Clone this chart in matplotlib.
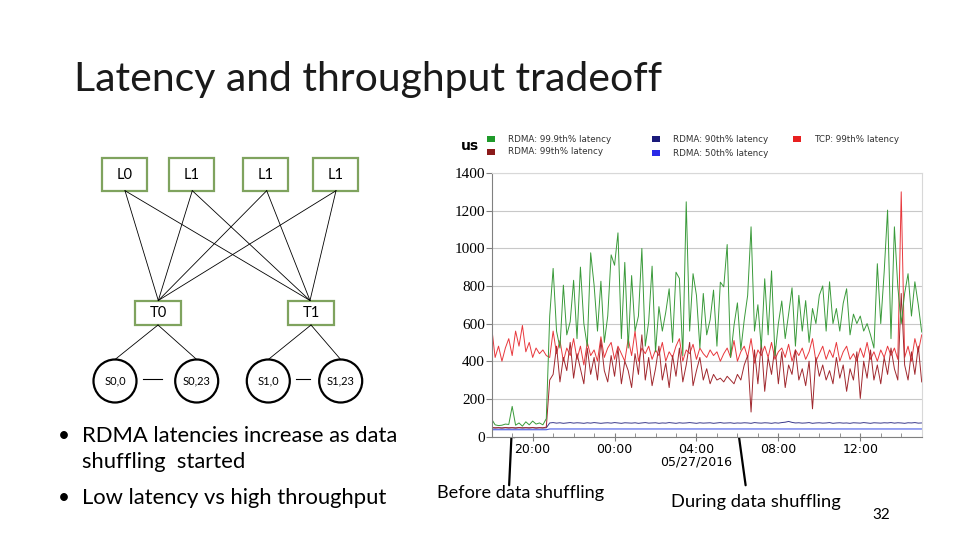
import matplotlib
matplotlib.use('Agg')
import matplotlib.pyplot as plt
import matplotlib.dates as mdates
from matplotlib.patches import Rectangle, Circle
from matplotlib.ticker import FuncFormatter
import pandas as pd

# 10-minute samples, 18:00 on 05/26 to 15:00 on 05/27
times = pd.date_range('2016-05-26 18:00', '2016-05-27 15:00', freq='10min')

rdma_p999 = [92, 62, 58, 60, 66, 64, 160, 60, 72, 55, 78, 62, 82, 66, 72, 62, 95,
             640, 893, 560, 470, 804, 540, 610, 830, 520, 900, 600, 480, 976,
             805, 560, 825, 500, 640, 965, 910, 1082, 520, 925, 470, 855, 560,
             640, 999, 480, 610, 905, 450, 690, 560, 660, 785, 500, 873, 840,
             430, 1247, 560, 865, 750, 470, 760, 540, 620, 778, 480, 820, 795,
             1020, 420, 590, 710, 460, 620, 750, 1114, 560, 700, 470, 838, 540,
             880, 430, 600, 720, 520, 650, 790, 480, 750, 560, 722, 500, 680,
             600, 750, 800, 560, 822, 600, 680, 560, 708, 785, 540, 650, 600,
             640, 560, 600, 540, 470, 918, 600, 873, 1203, 520, 1114, 795, 600,
             760, 865, 640, 822, 700, 555]
rdma_p99 = [48, 46, 47, 45, 48, 46, 47, 45, 48, 46, 47, 46, 48, 45, 47, 46, 50,
            300, 330, 480, 290, 420, 350, 500, 310, 440, 360, 280, 470, 330,
            420, 300, 510, 350, 290, 430, 320, 470, 280, 400, 350, 260, 440,
            330, 540, 300, 420, 270, 360, 480, 300, 390, 260, 430, 320, 470,
            290, 380, 500, 270, 350, 420, 300, 360, 280, 330, 300, 310, 290,
            320, 300, 280, 330, 300, 380, 430, 130, 460, 280, 500, 240, 420,
            330, 480, 280, 450, 260, 380, 330, 460, 300, 360, 270, 400, 147,
            420, 320, 380, 300, 350, 280, 420, 310, 380, 240, 360, 300, 450,
            202, 400, 310, 460, 300, 380, 280, 420, 330, 470, 360, 300, 760,
            380, 300, 450, 330, 480, 290]
tcp_p99 = [580, 420, 480, 400, 470, 520, 430, 560, 480, 590, 450, 500, 420, 470, 440, 460, 430,
           420, 560, 440, 510, 400, 470, 430, 520, 410, 480, 380, 500, 430,
           460, 400, 530, 420, 470, 500, 410, 480, 440, 400, 520, 430, 560,
           400, 470, 440, 480, 410, 460, 430, 500, 400, 450, 420, 480, 520,
           400, 460, 440, 490, 410, 470, 440, 420, 460, 430, 450, 400, 440,
           470, 420, 510, 400, 450, 480, 420, 520, 390, 460, 430, 480, 420,
           500, 410, 450, 470, 420, 490, 400, 460, 430, 470, 410, 450, 520,
           400, 440, 480, 410, 460, 420, 500, 400, 450, 480, 410, 440, 400,
           470, 420, 500, 410, 450, 400, 460, 420, 480, 430, 470, 410, 1300,
           420, 480, 400, 520, 450, 540]
rdma_p90 = [46, 45, 46, 45, 46, 45, 46, 45, 46, 45, 46, 45, 46, 45, 46, 45, 46,
            72, 74, 71, 73, 70, 72, 74, 71, 73, 72, 70, 73, 71,
            74, 72, 70, 72, 73, 71, 74, 72, 70, 73, 72, 71, 73,
            70, 72, 74, 71, 72, 73, 70, 72, 71, 74, 72, 70, 73,
            71, 72, 74, 72, 70, 73, 71, 72, 73, 70, 72, 74, 71,
            72, 73, 70, 72, 71, 73, 72, 70, 74, 72, 71, 73, 72,
            70, 73, 71, 74, 76, 80, 75, 72, 73, 71, 72, 74, 70,
            72, 73, 71, 72, 74, 70, 72, 73, 71, 72, 70, 73, 72,
            71, 74, 72, 70, 73, 72, 71, 73, 72, 74, 71, 73, 72,
            70, 73, 72, 74, 71, 72]
rdma_p50 = [36] * 17 + [40] * 110

legend_items = [('RDMA: 99.9th% latency', '#1f9a2a'), ('RDMA: 99th% latency', '#8b1a1a'),
                ('RDMA: 90th% latency', '#1a1a7a'), ('RDMA: 50th% latency', '#2a2ae8'),
                ('TCP: 99th% latency', '#e82020')]

# diagram
top_switches = ['L0', 'L1', 'L1', 'L1']
tor_switches = ['T0', 'T1']
servers = ['S0,0', 'S0,23', 'S1,0', 'S1,23']

body_font = ['Lato', 'DejaVu Sans']

fig = plt.figure(figsize=(9.6, 5.4), dpi=100)
bg = fig.add_axes([0, 0, 1, 1])
bg.set_xlim(0, 960)
bg.set_ylim(540, 0)
bg.axis('off')

bg.text(74, 80, 'Latency and throughput tradeoff', fontsize=29.5, family=body_font,
        va='center', ha='left', color='#1a1a1a')

green_edge = '#7fa35e'
top_x = [101.7, 169.3, 243.3, 313.3]
for x0, name in zip(top_x, top_switches):
    bg.add_patch(Rectangle((x0, 157.5), 45, 33, fill=False, ec=green_edge, lw=1.6))
    bg.text(x0 + 22.5, 175, name, fontsize=10.5, family=body_font, ha='center', va='center')
tor_x = [135, 288]
for x0, name in zip(tor_x, tor_switches):
    bg.add_patch(Rectangle((x0, 300.5), 46, 24.5, fill=False, ec=green_edge, lw=1.6))
    bg.text(x0 + 23, 313, name, fontsize=10.5, family=body_font, ha='center', va='center')

anchors = [125, 192.3, 266.7, 336]
for ax_ in anchors:
    bg.plot([ax_, 158.3], [190.7, 300.5], color='black', lw=0.6)
    bg.plot([ax_, 310], [190.7, 300.5], color='black', lw=0.6)

srv_x = [115, 196.7, 268.3, 340.7]
for cx, name in zip(srv_x, servers):
    bg.add_patch(Circle((cx, 381), 21.5, fill=False, ec='black', lw=1.6))
    bg.text(cx, 381, name, fontsize=8, family=body_font, ha='center', va='center')
bg.plot([158, 115], [325, 359.5], color='black', lw=0.6)
bg.plot([158, 196.7], [325, 359.5], color='black', lw=0.6)
bg.plot([311, 268.3], [325, 359.5], color='black', lw=0.6)
bg.plot([311, 340.7], [325, 359.5], color='black', lw=0.6)
bg.plot([143, 162], [379, 379], color='black', lw=0.8)
bg.plot([296, 310], [379, 379], color='black', lw=0.8)

# bullets
bg.text(58, 436, '\u2022', fontsize=15, family=body_font, va='center')
bg.text(82, 436, 'RDMA latencies increase as data', fontsize=15.8, family=body_font, va='center')
bg.text(82, 462, 'shuffling  started', fontsize=15.8, family=body_font, va='center')
bg.text(58, 498, '\u2022', fontsize=15, family=body_font, va='center')
bg.text(82, 498, 'Low latency vs high throughput', fontsize=15.8, family=body_font, va='center')

bg.text(437, 493, 'Before data shuffling', fontsize=13.1, family=body_font, va='center')
bg.text(671, 502, 'During data shuffling', fontsize=13.2, family=body_font, va='center')
bg.text(872, 515, '32', fontsize=11, family=body_font, va='center')

# legend
bg.text(461, 146, 'us', fontsize=10, va='center', weight='bold')
leg_pos = [(491, 139), (491, 152), (656, 139), (656, 153), (797, 139)]
for (lx, ly), (lab, col) in zip(leg_pos, legend_items):
    bg.add_patch(Rectangle((lx - 4, ly - 3), 8, 6, color=col, lw=0))
    bg.text(lx + 17, ly, lab, fontsize=6.3, va='center', color='#333333')

# chart
ax = fig.add_axes([491.7 / 960, 1 - 436.5 / 540, 430 / 960, 263.5 / 540])
ax.plot(times, rdma_p50, color='#4a5ce6', lw=0.8)
ax.plot(times, rdma_p90, color='#3a3a8c', lw=0.7)
ax.plot(times, tcp_p99, color='#e8383d', lw=0.7)
ax.plot(times, rdma_p99, color='#a0282e', lw=0.7)
ax.plot(times, rdma_p999, color='#3a9a3a', lw=0.7)

ax.set_xlim(pd.Timestamp('2016-05-26 18:00'), pd.Timestamp('2016-05-27 15:00'))
ax.set_ylim(0, 1400)
ax.set_yticks(range(0, 1401, 200))
ax.grid(axis='y', color='#c8c8c8', lw=0.8)
ax.set_axisbelow(True)
for s in ['top', 'right']:
    ax.spines[s].set_color('#d8d8d8')
for s in ['left', 'bottom']:
    ax.spines[s].set_color('#808080')

ax.xaxis.set_major_locator(mdates.HourLocator(byhour=range(0, 24, 4)))
ax.xaxis.set_minor_locator(mdates.HourLocator())


def fmt(v, pos):
    d = mdates.num2date(v)
    s = d.strftime('%H:%M')
    if d.hour == 4:
        s += '\n05/27/2016'
    return s


ax.xaxis.set_major_formatter(FuncFormatter(fmt))
ax.tick_params(axis='x', which='major', direction='inout', length=6, color='#808080',
               labelsize=9, pad=2)
ax.tick_params(axis='x', which='minor', direction='in', length=3, color='#808080')
ax.tick_params(axis='y', direction='out', length=4, color='#808080', labelsize=11, pad=1)
for lab in ax.get_yticklabels():
    lab.set_family('Liberation Serif')
for lab in ax.get_xticklabels():
    lab.set_linespacing(0.9)

# annotations inside chart
bg.text(500, 235, 'P99 TCP', fontsize=6.5, va='center')
bg.annotate('', xy=(527, 328), xytext=(521.7, 243),
            arrowprops=dict(arrowstyle='-|>', lw=0.6, color='black', mutation_scale=5))
bg.text(770, 200, 'P99.9 RDMA', fontsize=6.5, va='center')
bg.annotate('', xy=(826.5, 281), xytext=(808, 207),
            arrowprops=dict(arrowstyle='-|>', lw=0.6, color='black', mutation_scale=5))

# big arrows
bg.annotate('', xy=(512, 425), xytext=(509, 488),
            arrowprops=dict(arrowstyle='-|>', lw=1.6, color='black', mutation_scale=12))
bg.annotate('', xy=(732, 386), xytext=(746, 488),
            arrowprops=dict(arrowstyle='-|>', lw=1.6, color='black', mutation_scale=12))

fig.savefig('out.png', dpi=100)
